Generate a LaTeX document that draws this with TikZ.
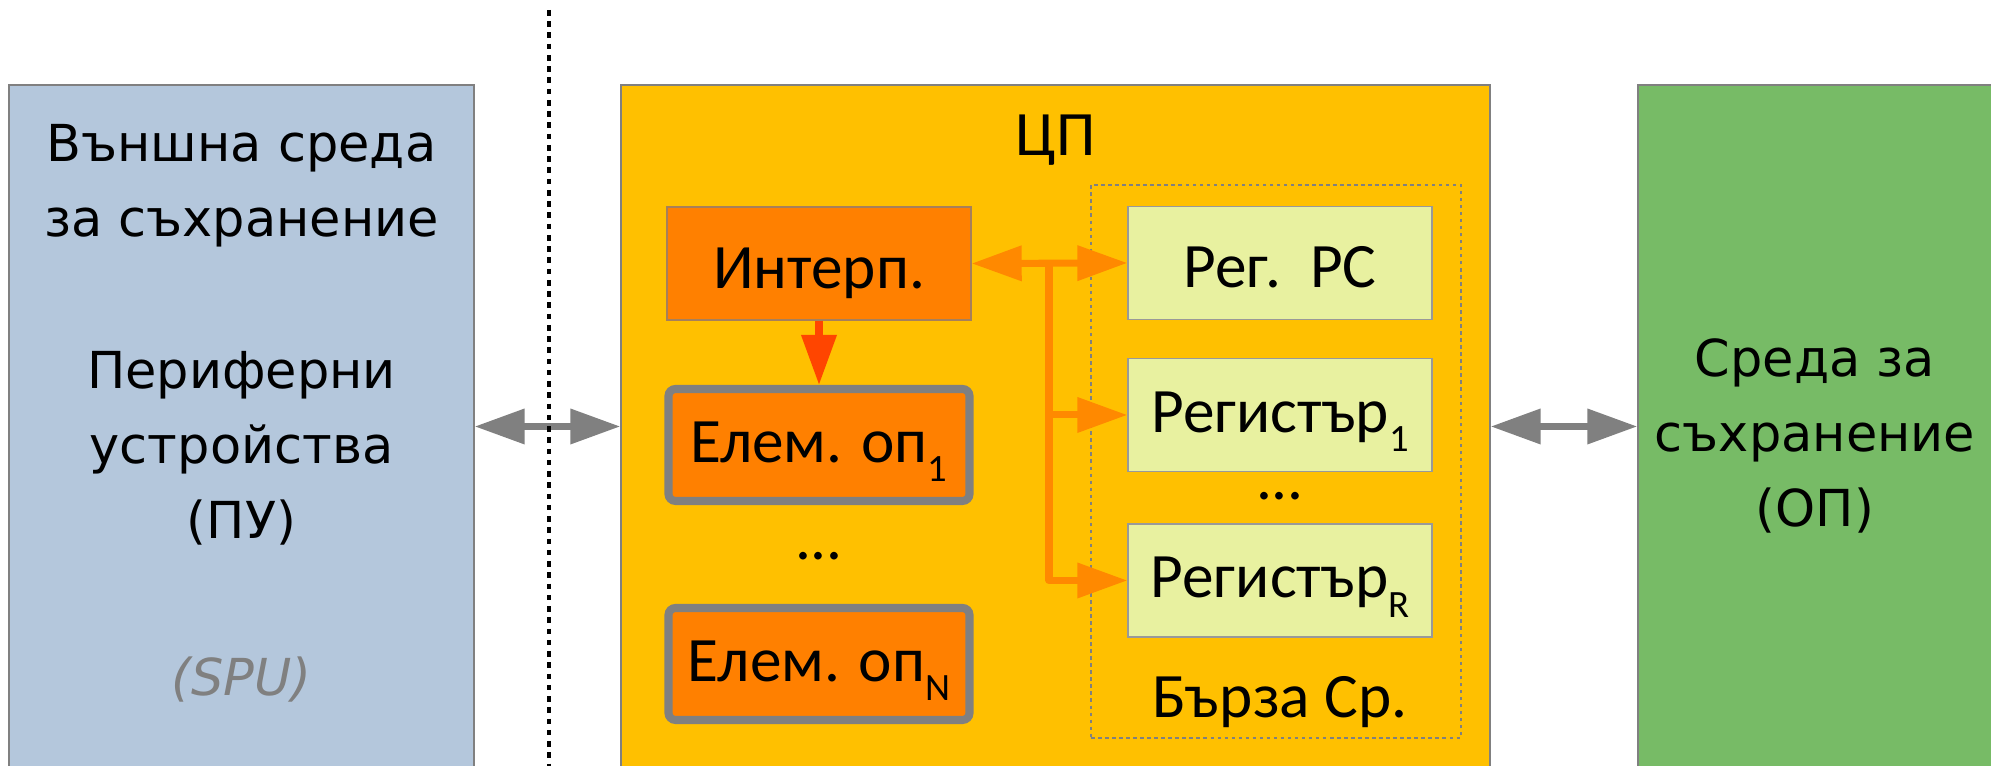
\documentclass[tikz,border=0pt]{standalone}
\usepackage{fontspec}
\setmainfont{DejaVu Sans}
\newfontfamily\calibri{Carlito}
\definecolor{spublue}{RGB}{180,199,220}
\definecolor{cpuyellow}{RGB}{255,192,0}
\definecolor{memgreen}{RGB}{119,187,102}
\definecolor{opfill}{RGB}{255,128,0}
\definecolor{regfill}{RGB}{232,241,160}
\definecolor{arrorange}{RGB}{255,137,0}
\definecolor{arrred}{RGB}{255,69,0}
\definecolor{edgegray}{RGB}{128,128,128}
\newcommand{\outerfont}{\fontsize{14.5pt}{21.3pt}\selectfont}
\newcommand{\unitfont}{\calibri\fontsize{18pt}{21pt}\selectfont}
\newcommand{\lowsub}[1]{\raisebox{-5.5pt}{\fontsize{11pt}{12pt}\selectfont #1}}
\usetikzlibrary{arrows.meta,positioning}
\tikzset{
  bigtip/.tip={Triangle[length=5mm,width=3.4mm]},
  bigbox/.style={draw=edgegray, line width=0.4pt, minimum height=6.83cm},
  outertext/.style={align=center, font=\outerfont},
  unit/.style={draw=edgegray!70!opfill, line width=0.4pt, fill=opfill, minimum width=3.04cm, minimum height=1.13cm, font=\unitfont, text height=0.55cm, text depth=0.05cm},
  subtext/.style={text height=0.52cm, text depth=0.17cm},
  opframe/.style={draw=edgegray, line width=2.3pt, rounded corners=2pt, minimum width=3.01cm, minimum height=1.12cm},
  reg/.style={unit, fill=regfill, draw=edgegray!80},
  innertext/.style={font=\unitfont, anchor=base},
  grayarrow/.style={draw=edgegray, line width=2pt, bigtip-bigtip},
  orangeline/.style={draw=arrorange, line width=2pt, line join=round}
}
\begin{document}
\begin{tikzpicture}
  \useasboundingbox (0,0) rectangle (19.91,7.66);
  % three areas
  \node[bigbox, fill=spublue, minimum width=4.65cm] (spu) at (2.415,3.395) {};
  \node[bigbox, fill=cpuyellow, minimum width=8.69cm] (cpu) at (10.555,3.395) {};
  \node[bigbox, fill=memgreen, minimum width=3.82cm] (mem) at (18.29,3.395) {};
  % area texts
  \node[outertext] (extlbl) at (2.415,5.80) {Външна среда\\за съхранение};
  \node[outertext] (pulbl) at (2.415,3.18) {Периферни\\устройства\\(ПУ)};
  \node[outertext, text=edgegray, font=\outerfont\itshape] (spulbl) at (2.415,0.86) {(SPU)};
  \node[outertext] (oplbl) at (18.15,3.30) {Среда за\\съхранение\\(ОП)};
  \node[innertext] (cpulbl) at (10.555,6.10) {ЦП};
  % fast storage
  \node[draw=edgegray, line width=0.7pt, dash pattern=on 1pt off 1pt, minimum width=3.70cm, minimum height=5.53cm] (fast) at (12.76,3.045) {};
  \node[innertext] (fastlbl) at (12.80,0.48) {Бърза Ср.};
  % units
  \node[unit] (interp) at (8.19,5.025) {Интерп.};
  \node[unit, opframe, subtext] (el1) at (8.19,3.21) {Елем. оп\lowsub{1}};
  \node[innertext] (udots) at (8.19,2.06) {...};
  \node[unit, opframe, subtext] (elN) at (8.19,1.02) {Елем. оп\lowsub{N}};
  % registers
  \node[reg] (pc) at (12.80,5.03) {Рег.~~PC};
  \node[reg, subtext] (reg1) at (12.80,3.51) {Регистър\lowsub{1}};
  \node[innertext] (rdots) at (12.80,2.66) {...};
  \node[reg, subtext] (regR) at (12.80,1.855) {Регистър\lowsub{R}};
  % connectors
  \draw[grayarrow] (spu.east) -- (cpu.west);
  \draw[grayarrow] (cpu.east) -- (mem.west);
  \draw[draw=arrred, line width=2pt, -bigtip] (interp.south) -- (el1.north);
  \coordinate (jn) at (10.49,5.03);
  \draw[orangeline, bigtip-bigtip] (interp.east) -- (pc.west);
  \draw[orangeline, -bigtip] (jn) |- (regR.west);
  \draw[orangeline, -bigtip] (jn |- reg1.west) -- (reg1.west);
  % boundary
  \draw[black, line width=1.4pt, dash pattern=on 1.6pt off 1.6pt] (5.49,7.56) -- (5.49,-0.1);
\end{tikzpicture}
\end{document}
